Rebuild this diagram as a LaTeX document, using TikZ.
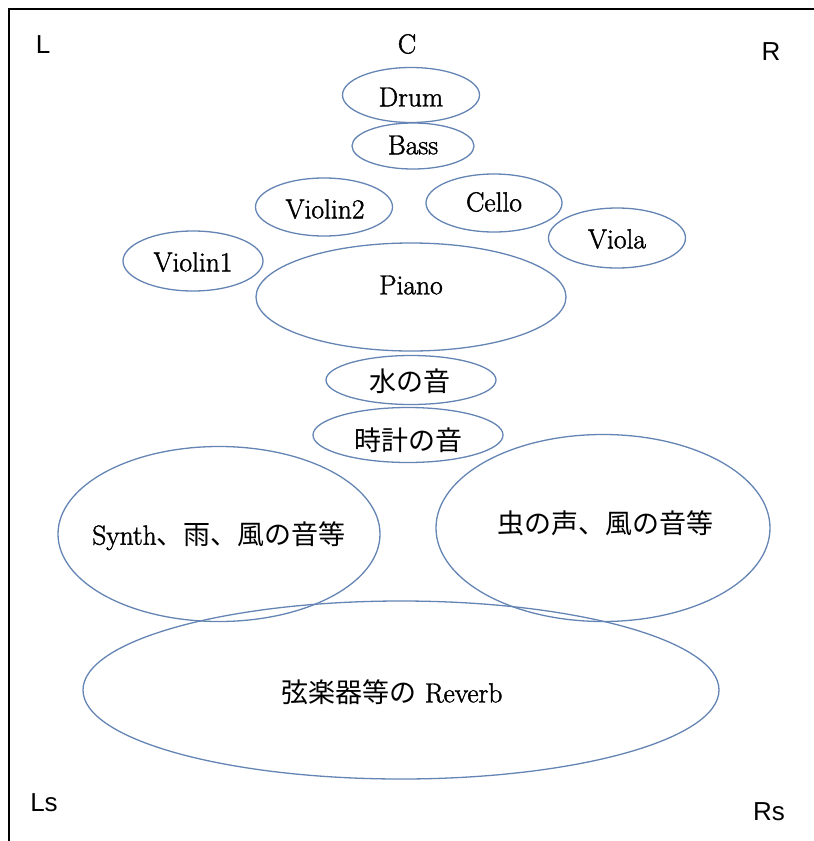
\documentclass[tikz,border=0pt]{standalone}
\usepackage{fontspec}
\setmainfont{Latin Modern Roman}[FakeBold=1.6]
\newfontfamily\cjk{Noto Sans CJK JP}
\newfontfamily\sanslab{Liberation Sans}
\usetikzlibrary{shapes.geometric}
\definecolor{ellblue}{RGB}{100,132,180}
\tikzset{
  ell/.style={ellipse, draw=ellblue, line width=1.3pt, inner sep=0pt},
  lab/.style={font=\fontsize{27.5}{30}\selectfont, inner sep=0pt},
  jlab/.style={font=\fontsize{27}{30}\selectfont\cjk, inner sep=0pt},
  corner/.style={font=\fontsize{26}{30}\selectfont\sanslab, inner sep=0pt},
  frame/.style={line width=2pt, black}
}
\begin{document}
\begin{tikzpicture}[x=1pt,y=-1pt]
\useasboundingbox (0,0) rectangle (814,841);
\coordinate (ftl) at (9,9);
\coordinate (ftr) at (814,9);
\coordinate (fbl) at (9,841);
\draw[frame] (ftr) -- (ftl) -- (fbl);
% corner labels
\node[corner] (L) at (43,45) {L};
\node[lab] (C) at (407,44) {C};
\node[corner] (R) at (771,52) {R};
\node[corner] (Ls) at (44,803) {Ls};
\node[corner] (Rs) at (769,812) {Rs};
% ellipses
\node[ell, minimum width=137pt, minimum height=55pt] (drum) at (411,95) {};
\node[ell, minimum width=122pt, minimum height=46pt] (bass) at (413,146) {};
\node[ell, minimum width=137pt, minimum height=58pt] (vn2) at (324,207) {};
\node[ell, minimum width=136pt, minimum height=58pt] (cello) at (494,203) {};
\node[ell, minimum width=140pt, minimum height=60pt] (vn1) at (193,261) {};
\node[ell, minimum width=137pt, minimum height=60pt] (viola) at (617,238) {};
\node[ell, minimum width=310pt, minimum height=108pt] (piano) at (411,297) {};
\node[ell, minimum width=170pt, minimum height=49pt] (water) at (411,380) {};
\node[ell, minimum width=190pt, minimum height=55pt] (clock) at (408,435) {};
\node[ell, minimum width=322pt, minimum height=175pt] (synth) at (219,534) {};
\node[ell, minimum width=334pt, minimum height=187pt] (insect) at (603,528) {};
\node[ell, minimum width=636pt, minimum height=178pt] (reverb) at (401,690) {};
% texts
\node[lab] (tdrum) at (411,97) {Drum};
\node[lab] (tbass) at (413,145) {Bass};
\node[lab] (tvn2) at (325,209) {Violin2};
\node[lab] (tcello) at (494,202) {Cello};
\node[lab] (tvn1) at (193,262) {Violin1};
\node[lab] (tviola) at (617,239) {Viola};
\node[lab] (tpiano) at (411,285) {Piano};
\node[jlab] (twater) at (410,381) {水の音};
\node[jlab] (tclock) at (408,440) {時計の音};
\node[lab] (tsynth) at (219,536) {Synth{\cjk\fontsize{27}{30}\selectfont 、雨、風の音等}};
\node[jlab] (tinsect) at (605,523) {虫の声、風の音等};
\node[lab] (treverb) at (392,692) {{\cjk\fontsize{27}{30}\selectfont 弦楽器等の} Reverb};
\end{tikzpicture}
\end{document}
